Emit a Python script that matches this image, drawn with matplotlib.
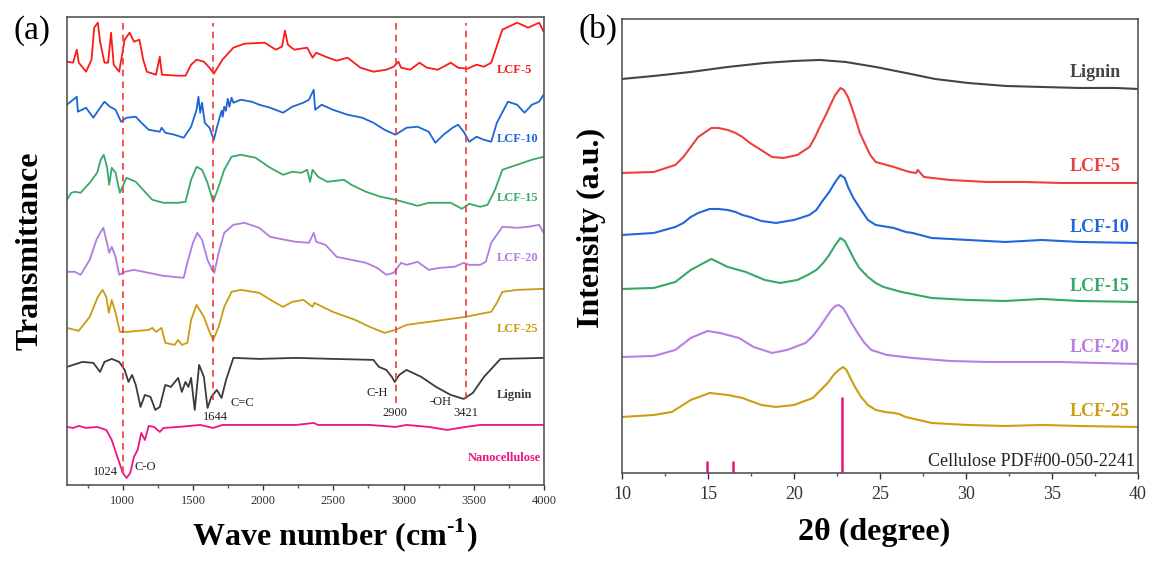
import matplotlib.pyplot as plt
from matplotlib.ticker import MultipleLocator

plt.rcParams['font.family'] = ['Liberation Serif', 'DejaVu Serif']
plt.rcParams['mathtext.fontset'] = 'custom'
plt.rcParams['mathtext.rm'] = 'Liberation Serif:bold'
plt.rcParams['mathtext.bf'] = 'Liberation Serif:bold'

# ---- (a) FTIR, wave number (cm-1) vs offset transmittance (a.u.) ----
lcf5_wn = [603, 647, 673, 687, 739, 778, 797, 823, 839, 870, 896, 917, 936, 975, 1014, 1049, 1080, 1119,
           1146, 1172, 1237, 1264, 1279, 1395, 1447, 1487, 1526, 1578, 1618, 1649, 1710, 1788, 1867, 2011,
           2090, 2134, 2155, 2176, 2221, 2313, 2352, 2378, 2444, 2523, 2601, 2693, 2785, 2877, 2929, 2963,
           2982, 3047, 3113, 3165, 3244, 3336, 3388, 3454, 3519, 3572, 3624, 3703, 3808, 3887, 3965, 3997]
lcf5_t = [421, 420, 433, 420, 411, 423, 455, 460, 441, 420, 420, 450, 418, 411, 443, 450, 441, 443,
          423, 411, 408, 426, 408, 407, 407, 418, 423, 421, 415, 409, 423, 435, 439, 440,
          433, 436, 452, 438, 433, 435, 425, 430, 426, 422, 425, 415, 411, 413, 416, 421,
          415, 413, 420, 415, 413, 420, 415, 414, 418, 416, 420, 453, 460, 455, 460, 451]

lcf10_wn = [603, 673, 681, 739, 791, 844, 870, 909, 949, 988, 1027, 1093, 1133, 1185, 1264, 1277, 1303,
            1369, 1434, 1487, 1526, 1539, 1552, 1565, 1584, 1618, 1649, 1670, 1696, 1705, 1712, 1723, 1735,
            1748, 1760, 1775, 1788, 1841, 1919, 1972, 2050, 2142, 2207, 2286, 2326, 2360, 2370, 2417, 2496,
            2601, 2706, 2785, 2864, 2942, 3021, 3100, 3179, 3226, 3284, 3349, 3388, 3428, 3467, 3519, 3572,
            3624, 3664, 3743, 3808, 3861, 3913, 3965, 3997]
lcf10_t = [378, 386, 371, 375, 365, 376, 381, 376, 373, 361, 365, 366, 360, 353, 351, 355, 350,
           348, 345, 356, 373, 386, 370, 380, 360, 355, 343, 355, 368, 372, 366, 376, 372,
           384, 376, 385, 380, 383, 381, 378, 375, 370, 376, 380, 383, 393, 373, 378, 373,
           368, 365, 360, 353, 348, 355, 356, 351, 340, 348, 355, 358, 351, 341, 346, 343,
           341, 360, 381, 378, 370, 378, 381, 388]

lcf15_wn = [603, 634, 660, 700, 765, 818, 844, 865, 888, 904, 922, 949, 980, 1027, 1093, 1158, 1211, 1290,
            1395, 1447, 1487, 1526, 1565, 1604, 1644, 1683, 1723, 1775, 1841, 1946, 2050, 2142, 2207, 2273,
            2313, 2334, 2352, 2391, 2457, 2575, 2628, 2732, 2837, 2942, 3021, 3100, 3179, 3257, 3336, 3415,
            3467, 3546, 3598, 3651, 3703, 3808, 3913, 3997]
lcf15_t = [283, 290, 291, 290, 300, 310, 323, 328, 316, 298, 315, 310, 290, 305, 301, 291, 283, 280,
           280, 281, 303, 316, 313, 300, 281, 296, 313, 326, 328, 325, 315, 308, 311, 310,
           313, 301, 313, 306, 301, 303, 298, 291, 286, 283, 280, 277, 280, 280, 280, 274,
           279, 276, 278, 293, 313, 318, 323, 326]

lcf20_wn = [603, 660, 700, 765, 813, 844, 862, 883, 904, 922, 949, 975, 1014, 1080, 1185, 1290, 1434, 1460,
            1500, 1531, 1565, 1604, 1636, 1652, 1683, 1723, 1788, 1867, 1972, 2050, 2155, 2234, 2326, 2360,
            2378, 2444, 2523, 2628, 2732, 2811, 2877, 2929, 2982, 3021, 3100, 3179, 3257, 3362, 3428, 3467,
            3546, 3585, 3624, 3703, 3808, 3887, 3965, 3997]
lcf20_t = [211, 211, 208, 223, 243, 251, 255, 243, 230, 236, 226, 208, 211, 213, 210, 207, 205, 220,
           240, 250, 243, 223, 213, 210, 230, 250, 258, 260, 255, 246, 243, 241, 240, 250,
           241, 238, 226, 223, 220, 215, 208, 210, 220, 218, 221, 213, 215, 216, 220, 218,
           218, 221, 240, 256, 255, 256, 258, 250]

lcf25_wn = [603, 687, 765, 823, 857, 883, 901, 922, 949, 980, 1027, 1185, 1211, 1237, 1277, 1303, 1369,
            1395, 1421, 1460, 1487, 1526, 1578, 1618, 1644, 1683, 1723, 1775, 1841, 1972, 2076, 2142, 2207,
            2286, 2352, 2365, 2496, 2654, 2759, 2864, 2942, 3021, 3284, 3441, 3546, 3624, 3664, 3703, 3808,
            3997]
lcf25_t = [155, 152, 166, 186, 193, 186, 170, 183, 170, 151, 151, 153, 155, 151, 155, 140, 138,
           143, 138, 140, 163, 178, 166, 151, 143, 156, 176, 191, 193, 190, 181, 176, 181,
           183, 176, 180, 171, 163, 156, 150, 153, 158, 163, 166, 169, 171, 180, 191, 193,
           194]

lignin_wn = [603, 713, 791, 839, 870, 922, 975, 1014, 1041, 1067, 1093, 1127, 1158, 1198, 1232, 1264, 1303,
             1343, 1395, 1421, 1447, 1468, 1487, 1513, 1544, 1578, 1604, 1631, 1670, 1704, 1736, 1788, 1972,
             2234, 2496, 2785, 2824, 2877, 2916, 2937, 2969, 3021, 3126, 3231, 3336, 3428, 3493, 3572, 3690,
             3997]
lignin_t = [116, 121, 120, 111, 121, 124, 121, 113, 101, 108, 98, 76, 88, 86, 73, 76, 98,
            96, 105, 91, 101, 96, 105, 73, 118, 106, 75, 86, 93, 85, 103, 125, 124,
            125, 124, 123, 116, 113, 106, 101, 108, 113, 106, 96, 88, 84, 90, 106, 124,
            125]

nano_wn = [603, 647, 687, 739, 818, 883, 922, 962, 1001, 1027, 1054, 1080, 1106, 1132, 1158, 1185, 1224,
           1264, 1290, 1395, 1552, 1644, 1710, 2234, 2360, 2391, 2759, 2942, 3021, 3179, 3310, 3441, 3546,
           3997]
nano_t = [56, 55, 57, 55, 56, 53, 43, 26, 10, 5, 10, 26, 33, 50, 43, 57, 56,
          51, 55, 56, 58, 55, 58, 58, 60, 58, 58, 56, 58, 56, 53, 56, 58,
          58]

peak_wn = [1000, 1645, 2944, 3442]
peak_low = [10, 83, 80, 84]

# ---- (b) XRD, 2theta vs offset intensity ----
xrd_lignin_2t = [10.0, 11.85, 14.0, 16.15, 18.3, 20.0, 21.5, 23.0, 24.75, 26.5, 28.2, 30.1, 32.3, 34.4, 36.6,
                 38.7, 40.0]
xrd_lignin_i = [394, 397, 401, 406, 410, 412, 413, 411, 406, 400, 394, 390, 387, 386, 385, 385, 384]

xrd_lcf5_2t = [10, 11.85, 13.1, 13.57, 14.0, 14.43, 14.86, 15.2, 15.6, 16.15, 16.6, 17.0, 17.44, 17.9, 18.73,
               19.4, 20.2, 20.9, 21.2, 21.5, 21.85, 22.17, 22.4, 22.7, 22.9, 23.14, 23.35, 23.6, 23.83, 24.1,
               24.43, 24.75, 25.8, 26.7, 27.1, 27.2, 27.55, 29.05, 31.2, 33.4, 35.5, 37.65, 40]
xrd_lcf5_i = [300, 301, 308, 316, 326, 336, 341, 345, 345, 343, 340, 336, 330, 325, 316,
              315, 318, 326, 335, 346, 358, 370, 378, 385, 383, 376, 366, 353, 340, 330,
              318, 311, 306, 301, 300, 303, 296, 293, 291, 291, 290, 290, 290]

xrd_lcf10_2t = [10, 11.85, 13.1, 13.57, 14.0, 14.43, 15.1, 15.6, 16.15, 16.6, 17.0, 17.44, 18.1, 18.95, 20.0,
                20.9, 21.3, 21.7, 22.05, 22.4, 22.7, 22.95, 23.14, 23.45, 23.9, 24.3, 24.75, 25.8, 26.5, 26.9,
                28.0, 30.1, 32.3, 34.4, 36.6, 40]
xrd_lcf10_i = [238, 240, 246, 250, 256, 260, 264, 264, 263, 261, 258, 256, 252, 250, 253,
               258, 263, 273, 281, 291, 298, 295, 286, 275, 263, 253, 248, 245, 241, 240,
               235, 233, 231, 233, 231, 230]

xrd_lcf15_2t = [10, 11.85, 13.1, 14.0, 14.86, 15.2, 16.15, 17.2, 18.3, 19.2, 20.2, 20.8, 21.3, 21.7, 22.05,
                22.4, 22.7, 22.95, 23.25, 23.55, 23.8, 24.3, 24.75, 25.2, 26.25, 28.0, 30.1, 32.3, 34.4, 36.6,
                40]
xrd_lcf15_i = [184, 185, 191, 203, 211, 214, 206, 201, 193, 190, 193, 198, 203, 210, 218,
               228, 235, 232, 222, 212, 205, 196, 190, 186, 181, 175, 173, 172, 174, 172,
               171]

xrd_lcf20_2t = [10, 11.85, 13.1, 14.0, 14.97, 15.7, 16.8, 17.65, 18.73, 19.6, 20.67, 21.1, 21.5, 21.85,
                22.17, 22.4, 22.6, 22.85, 23.03, 23.35, 23.7, 24.1, 24.5, 25.4, 26.9, 29.05, 31.2, 33.4, 35.5,
                37.65, 40]
xrd_lcf20_i = [116, 117, 123, 135, 142, 140, 135, 126, 120, 123, 130, 137, 146, 155,
               163, 167, 168, 165, 160, 150, 140, 130, 123, 118, 115, 112, 111, 111, 111,
               110, 109]

xrd_lcf25_2t = [10, 11.85, 12.9, 14.0, 15.1, 16.15, 17.0, 18.1, 18.95, 20.0, 21.1, 21.5, 21.96, 22.3, 22.6,
                22.86, 23.05, 23.25, 23.55, 23.9, 24.3, 24.75, 25.3, 25.8, 26.1, 26.5, 28.0, 30.1, 32.3, 34.4,
                36.6, 40]
xrd_lcf25_i = [56, 58, 61, 73, 80, 78, 75, 68, 66, 68, 75, 82, 90, 98, 103,
               106, 103, 96, 86, 76, 68, 63, 61, 60, 59, 56, 50, 48, 47, 48,
               47, 46]

pdf_2t = [14.97, 16.47, 22.82]
pdf_i = [12, 12, 76]

fig = plt.figure(figsize=(11.63, 5.61), dpi=100)
ax1 = fig.add_axes([0.0572, 0.1355, 0.4106, 0.8348])
ax2 = fig.add_axes([0.5348, 0.1569, 0.4437, 0.8093])

ftir = [
    (lcf5_wn, lcf5_t, '#fb1b1b', 'LCF-5', 3666, 413),
    (lcf10_wn, lcf10_t, '#1c66d6', 'LCF-10', 3666, 344),
    (lcf15_wn, lcf15_t, '#37a96a', 'LCF-15', 3666, 285),
    (lcf20_wn, lcf20_t, '#b07ce0', 'LCF-20', 3666, 225),
    (lcf25_wn, lcf25_t, '#c99c12', 'LCF-25', 3666, 154),
    (lignin_wn, lignin_t, '#3b3b3b', 'Lignin', 3666, 88),
    (nano_wn, nano_t, '#ec1582', 'Nanocellulose', 3456, 25),
]
for x, y, c, name, tx, ty in ftir:
    ax1.plot(x, y, color=c, lw=1.3)
    ax1.text(tx, ty, name, color=c, fontsize=9, fontweight='bold', ha='left', va='center')

for wn, low in zip(peak_wn, peak_low):
    ax1.plot([wn, wn], [low, 460], color='#f03a3a', lw=1.2, ls=(0, (4, 3)))

# peak assignments
notes = [('1024', 874, 11), ('C-O', 1164, 16), ('1644', 1657, 66), ('C=C', 1850, 80),
         ('C-H', 2811, 90), ('2900', 2939, 70), ('-OH', 3264, 81), ('3421', 3442, 70)]
for s, x, y in notes:
    ax1.text(x, y, s, fontsize=9, ha='center', va='center', color='#222222')

ax1.set_xlim(600, 4000)
ax1.set_ylim(-2, 466)
ax1.set_xticks(range(1000, 4001, 500))
ax1.xaxis.set_minor_locator(MultipleLocator(250))
ax1.set_yticks([])
ax1.tick_params(axis='x', which='major', direction='out', length=3.6, width=1, labelsize=9, colors='#333333')
ax1.tick_params(axis='x', which='minor', direction='out', length=2.5, width=1, colors='#555555')
ax1.set_xlabel(r'Wave number (cm$^{\text{-}1}$)', fontsize=23, fontweight='bold')
ax1.xaxis.set_label_coords(0.562, -0.108)
ax1.xaxis.label.set_va('center')
ax1.set_ylabel('Transmittance', fontsize=23, fontweight='bold')
ax1.yaxis.set_label_coords(-0.076, 0.5)
ax1.yaxis.label.set_va('center')

xrd = [
    (xrd_lignin_2t, xrd_lignin_i, '#444444', 'Lignin', 400),
    (xrd_lcf5_2t, xrd_lcf5_i, '#ee4040', 'LCF-5', 306),
    (xrd_lcf10_2t, xrd_lcf10_i, '#2266dd', 'LCF-10', 245),
    (xrd_lcf15_2t, xrd_lcf15_i, '#35aa68', 'LCF-15', 186),
    (xrd_lcf20_2t, xrd_lcf20_i, '#b77fe6', 'LCF-20', 125),
    (xrd_lcf25_2t, xrd_lcf25_i, '#cc9e14', 'LCF-25', 61),
]
for x, y, c, name, ty in xrd:
    ax2.plot(x, y, color=c, lw=1.5)
    ax2.text(36.05, ty, name, color=c, fontsize=13, fontweight='bold', ha='left', va='center')

ax2.vlines(pdf_2t, 0, pdf_i, color='#e6157a', lw=1.8)
ax2.text(39.8, 11, 'Cellulose PDF#00-050-2241', fontsize=13, ha='right', va='center', color='#222222')

ax2.set_xlim(10, 40)
ax2.set_ylim(0, 454)
ax2.xaxis.set_major_locator(MultipleLocator(5))
ax2.xaxis.set_minor_locator(MultipleLocator(2.5))
ax2.set_yticks([])
ax2.tick_params(axis='x', which='major', direction='out', length=4.5, width=1, labelsize=13, pad=5,
                colors='#333333')
ax2.tick_params(axis='x', which='minor', direction='out', length=2.5, width=1, colors='#555555')
ax2.set_xlabel('2θ (degree)', fontsize=23, fontweight='bold')
ax2.xaxis.set_label_coords(0.489, -0.132)
ax2.xaxis.label.set_va('center')
ax2.set_ylabel('Intensity (a.u.)', fontsize=23, fontweight='bold')
ax2.yaxis.set_label_coords(-0.06, 0.54)
ax2.yaxis.label.set_va('center')

for ax in (ax1, ax2):
    for sp in ax.spines.values():
        sp.set_color('#555555')
        sp.set_linewidth(1.2)

fig.text(32 / 1163, 1 - 31 / 561, '(a)', fontsize=24, ha='center', va='center')
fig.text(598 / 1163, 1 - 29 / 561, '(b)', fontsize=24, ha='center', va='center')

fig.savefig('out.png', dpi=100)
